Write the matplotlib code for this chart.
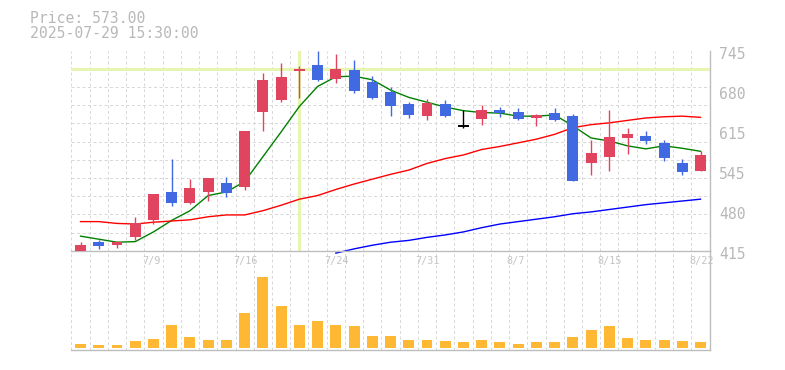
import numpy as np
import matplotlib
matplotlib.use("Agg")
import matplotlib.pyplot as plt
from matplotlib import transforms

# ---------------- data ----------------
dates = ['7/3', '7/4', '7/7', '7/8', '7/9', '7/10', '7/11', '7/14', '7/15', '7/16',
         '7/17', '7/18', '7/22', '7/23', '7/24', '7/25', '7/28', '7/29', '7/30', '7/31',
         '8/1', '8/4', '8/5', '8/6', '8/7', '8/8', '8/12', '8/13', '8/14', '8/15',
         '8/18', '8/19', '8/20', '8/21', '8/22']
opens  = [415, 430, 425, 438, 465, 512, 494, 512, 527, 520,
          644, 664, 712, 721, 698, 713, 693, 677, 657, 637,
          657, 621, 632, 647, 644, 634, 642, 637, 560, 570,
          601, 604, 593, 560, 546]
highs  = [429, 433, 431, 471, 509, 566, 533, 535, 537, 613,
          708, 725, 720, 745, 740, 730, 703, 685, 660, 665,
          664, 647, 655, 652, 650, 640, 650, 640, 598, 647,
          617, 612, 598, 566, 579]
lows   = [415, 418, 420, 433, 459, 489, 492, 497, 504, 515,
          613, 660, 667, 695, 692, 675, 665, 637, 634, 631,
          636, 618, 622, 635, 631, 621, 629, 530, 540, 546,
          575, 591, 563, 540, 546]
closes = [424, 423, 430, 461, 509, 494, 519, 535, 510, 613,
          697, 702, 714, 697, 715, 679, 667, 654, 639, 659,
          637, 621, 647, 642, 632, 639, 631, 530, 576, 603,
          608, 596, 568, 545, 573]
volume = [40, 30, 30, 70, 90, 230, 110, 80, 80, 350,
          710, 420, 230, 270, 230, 220, 120, 120, 80, 80,
          70, 60, 80, 60, 40, 60, 60, 110, 180, 220,
          100, 80, 80, 70, 60]
ma_short = [439, 434, 429, 430, 446, 465, 481, 506, 512, 529,
            570, 611, 653, 686, 702, 703, 697, 680, 668, 660,
            652, 646, 643, 642, 637, 637, 639, 621, 601, 596,
            588, 583, 588, 584, 579]
ma_mid = [463, 463, 460, 459, 462, 464, 466, 471, 474, 474,
          481, 490, 500, 506, 516, 525, 533, 541, 548, 559,
          567, 573, 582, 587, 593, 599, 607, 618, 623, 626,
          630, 634, 636, 637, 635]
ma_long_start = 14
ma_long = [411, 418, 424, 429, 432, 437, 441, 446, 453, 459,
           463, 467, 471, 476, 479, 483, 487, 491, 494, 497, 500]
label_dates = ['7/9', '7/16', '7/24', '7/31', '8/7', '8/15', '8/22']
ytick_values = [745, 679, 613, 547, 481, 415]
ytick_labels = ['745', '680', '615', '545', '480', '415']
y_min, y_max, y_step = 415, 745, 30
cross_date = '7/22'
cross_price = 714
info_lines = ['Price: 573.00', '2025-07-29 15:30:00']

# ---------------- style ----------------
UP = '#e0445e'
DOWN = '#4169e1'
FLAT = '#000000'
VOLC = '#ffb833'
GRID = '#d9d9d9'
SPINE = '#bdbdbd'
TXT = '#b8b8b8'
CROSS = '#e6f5b0'
MONO = 'DejaVu Sans Mono'
PX = 0.72  # one pixel in points at 100 dpi

W, H = 785, 370
fig = plt.figure(figsize=(W / 100, H / 100), dpi=100)
left, right, top, bot = 70.7, 710.0, 50.7, 250.7
vb = 350.0
axv = fig.add_axes([left / W, (H - vb) / H, (right - left) / W, (vb - bot) / H])
ax = fig.add_axes([left / W, (H - bot) / H, (right - left) / W, (bot - top) / H])
axv.patch.set_alpha(0)
ax.patch.set_alpha(0)

x = np.arange(len(dates))
xlim = (-0.54, len(dates) - 0.48)

for a in (ax, axv):
    a.set_xlim(*xlim)
    a.set_xticks(np.arange(-0.5, len(dates), 1.0), minor=True)
    a.grid(which='minor', axis='x', color=GRID, lw=PX, linestyle=(0, (3, 2.5)), zorder=0)
    a.tick_params(which='minor', length=0)
    for s in ('top', 'left'):
        a.spines[s].set_visible(False)
    for s in ('bottom', 'right'):
        a.spines[s].set_color(SPINE)
        a.spines[s].set_linewidth(1.0)
    a.set_axisbelow(True)

# main price axes
ax.set_ylim(y_min, y_max)
ax.set_yticks(np.arange(y_min, y_max + 1, y_step), minor=True)
ax.grid(which='minor', axis='y', color=GRID, lw=PX, linestyle=(0, (3, 2.5)), zorder=0)
ax.yaxis.tick_right()
ax.set_yticks(ytick_values)
ax.set_yticklabels(ytick_labels)
ax.tick_params(axis='y', which='major', length=0, pad=6.5, labelsize=10.6, labelcolor=TXT)
for t in ax.get_yticklabels():
    t.set_fontfamily(MONO)
    t.set_transform(t.get_transform() + transforms.ScaledTranslation(0, -0.02, fig.dpi_scale_trans))

label_idx = [dates.index(d) for d in label_dates]
ax.set_xticks(label_idx)
ax.set_xticklabels(label_dates)
ax.tick_params(axis='x', which='major', length=0, pad=4.0, labelsize=7.3, labelcolor='#c4c4c4')
for t in ax.get_xticklabels():
    t.set_fontfamily(MONO)
    t.set_ha('left')
    t.set_transform(t.get_transform() + transforms.ScaledTranslation(-0.115, 0, fig.dpi_scale_trans))

# crosshair
ci = dates.index(cross_date)
ax.axhline(cross_price, color=CROSS, lw=2.2, zorder=1)
ax.axvline(ci, color=CROSS, lw=2.2, zorder=1)

# moving averages
ax.plot(x, ma_short, color='#008000', lw=1.0, zorder=2)
ax.plot(x, ma_mid, color='#ff0000', lw=1.0, zorder=2)
ax.plot(x[ma_long_start:], ma_long, color='#0000ff', lw=1.0, zorder=2, clip_on=False)

# candles
bw = 0.6
for i in range(len(dates)):
    o, h, l, c = opens[i], highs[i], lows[i], closes[i]
    col = UP if c > o else (DOWN if c < o else FLAT)
    ax.vlines(x[i], l, h, color=col, lw=1.0, zorder=3)
    if c == o:
        ax.hlines(c, x[i] - bw / 2, x[i] + bw / 2, color=col, lw=1.4, zorder=3)
    else:
        ax.bar(x[i], abs(c - o), bottom=min(o, c), width=bw, color=col, lw=0, zorder=3)

# volume
vmax = max(volume)
axv.set_ylim(-0.024 * vmax, 1.375 * vmax)
axv.bar(x, volume, width=bw, color=VOLC, lw=0, zorder=3)
axv.set_xticks([])
axv.set_yticks([])

# info text
fig.text(30 / W, 1 - 23.3 / H, info_lines[0], fontsize=10.6, family=MONO, color=TXT, va='baseline')
fig.text(30 / W, 1 - 37.6 / H, info_lines[1], fontsize=10.6, family=MONO, color=TXT, va='baseline')

fig.savefig('out.png', dpi=100)
